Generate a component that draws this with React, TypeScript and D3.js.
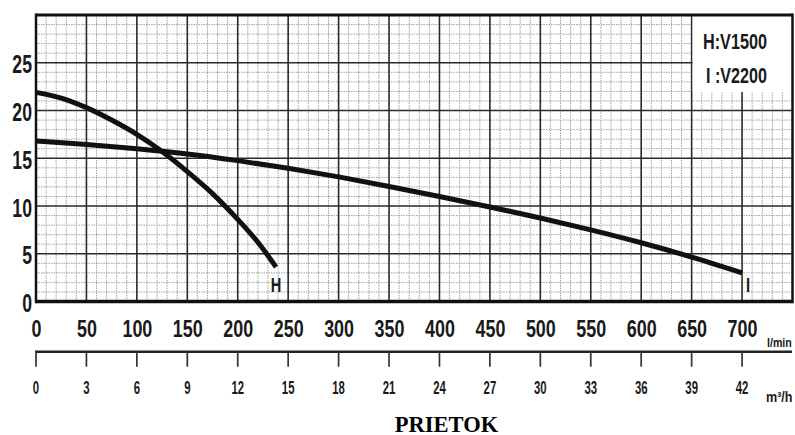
import React from "react";
import * as d3 from "d3";

const flowLmin = [0, 50, 100, 150, 200, 250, 300, 350, 400, 450, 500, 550, 600, 650, 700];
const flowM3h = [0, 3, 6, 9, 12, 15, 18, 21, 24, 27, 30, 33, 36, 39, 42];
const headTicks = [0, 5, 10, 15, 20, 25];

const seriesH_x = [0, 25, 50, 75, 100, 125, 150, 175, 200, 220, 238];
const seriesH_y = [21.9, 21.3, 20.3, 19.0, 17.5, 15.7, 13.6, 11.3, 8.6, 6.2, 3.6];

const seriesI_x = [0, 50, 100, 150, 200, 250, 300, 350, 400, 450, 500, 550, 600, 650, 700];
const seriesI_y = [16.8, 16.45, 16.0, 15.45, 14.75, 13.95, 13.05, 12.05, 11.0, 9.9, 8.75, 7.5, 6.15, 4.65, 3.0];

const legendLines = ["H:V1500", "I :V2200"];

const FONT = "'Liberation Sans', Arial, sans-serif";

function CText(props: {
  x: number; y: number; size: number; sx: number; anchor?: string; children: React.ReactNode; weight?: string;
}) {
  const { x, y, size, sx, anchor = "middle", children, weight = "bold" } = props;
  return (
    <g transform={`translate(${x},${y}) scale(${sx},1)`}>
      <text x={0} y={0} fontFamily={FONT} fontWeight={weight} fontSize={size} textAnchor={anchor} fill="#1a1a1a">
        {children}
      </text>
    </g>
  );
}

export default function App() {
  const W = 795, H = 435;
  const x = d3.scaleLinear().domain([0, 750]).range([36, 792.5]);
  const y = d3.scaleLinear().domain([0, 30]).range([301.5, 15]);
  const x2 = d3.scaleLinear().domain([0, 45]).range([36, 792.5]);

  const minorX = d3.range(0, 751, 10).filter((v) => v % 50 !== 0);
  const minorY = d3.range(0, 31, 1).filter((v) => v % 5 !== 0);
  const majorX = d3.range(50, 750, 50);
  const majorY = d3.range(5, 30, 5);

  const line = d3
    .line<[number, number]>()
    .x((d) => x(d[0]))
    .y((d) => y(d[1]))
    .curve(d3.curveCatmullRom.alpha(0.5));

  const hPts = seriesH_x.map((v, i) => [v, seriesH_y[i]] as [number, number]);
  const iPts = seriesI_x.map((v, i) => [v, seriesI_y[i]] as [number, number]);

  const axisY = 351.7;

  return (
    <svg width={W} height={H} style={{ position: "absolute", left: 0, top: 0, background: "#fff" }}>
      <rect x={0} y={0} width={W} height={H} fill="#fff" />
      {/* minor grid */}
      {minorX.map((v) => (
        <line key={"mx" + v} x1={x(v)} x2={x(v)} y1={y(30)} y2={y(0)} stroke="#999" strokeWidth={0.9} strokeDasharray="1.5,1" />
      ))}
      {minorY.map((v) => (
        <line key={"my" + v} x1={x(0)} x2={x(750)} y1={y(v)} y2={y(v)} stroke="#999" strokeWidth={0.9} strokeDasharray="1.5,1" />
      ))}
      {/* major grid */}
      {majorX.map((v) => (
        <line key={"Mx" + v} x1={x(v)} x2={x(v)} y1={y(30)} y2={y(0)} stroke="#2a2a2a" strokeWidth={1.6} />
      ))}
      {majorY.map((v) => (
        <line key={"My" + v} x1={x(0)} x2={x(750)} y1={y(v)} y2={y(v)} stroke="#2a2a2a" strokeWidth={1.6} />
      ))}
      {/* legend box */}
      <rect x={x(650) + 1} y={y(30)} width={x(750) - x(650) - 1} height={y(22) - y(30) + 0.6} fill="#fff" />
      <text x={767} y={49.3} fontFamily={FONT} fontWeight="bold" fontSize={22} textAnchor="end" textLength={64} lengthAdjust="spacingAndGlyphs" fill="#1a1a1a">
        {legendLines[0]}
      </text>
      <text x={767} y={82.7} fontFamily={FONT} fontWeight="bold" fontSize={22} textAnchor="end" textLength={61} lengthAdjust="spacingAndGlyphs" fill="#1a1a1a">
        {legendLines[1]}
      </text>
      {/* border */}
      <line x1={x(0)} x2={x(750)} y1={y(30)} y2={y(30)} stroke="#111" strokeWidth={3} />
      <line x1={x(0)} x2={x(750)} y1={y(0)} y2={y(0)} stroke="#111" strokeWidth={3.5} />
      <line x1={x(0)} x2={x(0)} y1={y(30) - 1.5} y2={y(0) + 1.75} stroke="#111" strokeWidth={2.5} />
      <line x1={x(750)} x2={x(750)} y1={y(30) - 1.5} y2={y(0) + 1.75} stroke="#111" strokeWidth={2.5} />
      {/* curves */}
      <path d={line(hPts) || ""} fill="none" stroke="#111" strokeWidth={5} strokeLinecap="butt" />
      <path d={line(iPts) || ""} fill="none" stroke="#111" strokeWidth={5} strokeLinecap="butt" />
      <CText x={x(238)} y={292} size={21} sx={0.7}>H</CText>
      <CText x={x(706)} y={292} size={21} sx={0.7}>I</CText>
      {/* y labels */}
      {headTicks.map((v) => (
        <CText key={"yl" + v} x={32} y={y(v) + 10.5} size={26} sx={0.68} anchor="end">{v}</CText>
      ))}
      {/* x labels l/min */}
      {flowLmin.map((v) => (
        <CText key={"xl" + v} x={x(v) + 0.5} y={336.7} size={23} sx={0.78}>{v}</CText>
      ))}
      <CText x={767} y={346.7} size={12.5} sx={0.85} anchor="start">l/min</CText>
      {/* second axis */}
      <line x1={x2(0) - 1} x2={792} y1={axisY} y2={axisY} stroke="#222" strokeWidth={2.5} />
      {flowM3h.map((v) => (
        <line key={"t2" + v} x1={x2(v)} x2={x2(v)} y1={axisY} y2={366.7} stroke="#333" strokeWidth={1.7} />
      ))}
      {flowM3h.map((v) => (
        <CText key={"x2l" + v} x={x2(v)} y={394.3} size={17.5} sx={0.65}>{v}</CText>
      ))}
      <CText x={766} y={401.7} size={14} sx={0.9} anchor="start">m³/h</CText>
      <text x={446.5} y={431.5} fontFamily="'Liberation Serif', 'Times New Roman', serif" fontWeight="bold" fontSize={22.5} textAnchor="middle" fill="#000">
        PRIETOK
      </text>
    </svg>
  );
}
